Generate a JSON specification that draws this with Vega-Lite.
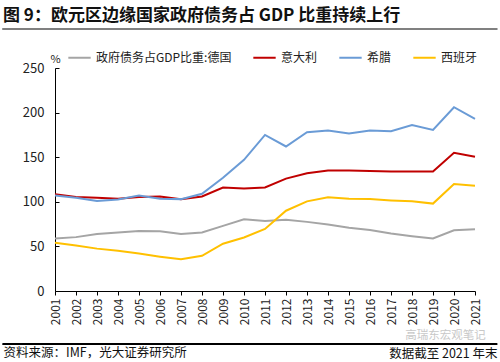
{
  "$schema": "https://vega.github.io/schema/vega-lite/v6.json",
  "width": 420,
  "height": 223,
  "autosize": "none",
  "padding": {"left": 55, "top": 68, "right": 25, "bottom": 71},
  "background": "white",
  "config": {"view": {"stroke": null}, "font": "Noto Sans CJK SC"},
  "title": {
    "text": "图 9：欧元区边缘国家政府债务占 GDP 比重持续上行",
    "anchor": "start",
    "frame": "group",
    "dx": -52,
    "fontSize": 17,
    "fontWeight": "bold",
    "color": "#111111",
    "offset": 3
  },
  "data": {
    "values": [
      {"year": 2001, "政府债务占GDP比重:德国": 58.9, "意大利": 108.5, "希腊": 107.0, "西班牙": 54.0},
      {"year": 2002, "政府债务占GDP比重:德国": 60.4, "意大利": 105.5, "希腊": 104.5, "西班牙": 51.0},
      {"year": 2003, "政府债务占GDP比重:德国": 64.0, "意大利": 104.5, "希腊": 101.0, "西班牙": 47.5},
      {"year": 2004, "政府债务占GDP比重:德国": 65.5, "意大利": 103.5, "希腊": 102.5, "西班牙": 45.0},
      {"year": 2005, "政府债务占GDP比重:德国": 67.4, "意大利": 105.5, "希腊": 107.0, "西班牙": 42.0},
      {"year": 2006, "政府债务占GDP比重:德国": 66.9, "意大利": 106.0, "希腊": 103.5, "西班牙": 38.5},
      {"year": 2007, "政府债务占GDP比重:德国": 64.0, "意大利": 103.0, "希腊": 103.0, "西班牙": 35.5},
      {"year": 2008, "政府债务占GDP比重:德国": 65.5, "意大利": 106.0, "希腊": 109.0, "西班牙": 39.5},
      {"year": 2009, "政府债务占GDP比重:德国": 73.0, "意大利": 116.0, "希腊": 127.0, "西班牙": 53.0},
      {"year": 2010, "政府债务占GDP比重:德国": 80.5, "意大利": 115.0, "希腊": 147.0, "西班牙": 60.0},
      {"year": 2011, "政府债务占GDP比重:德国": 78.6, "意大利": 116.0, "希腊": 175.0, "西班牙": 69.5},
      {"year": 2012, "政府债务占GDP比重:德国": 80.0, "意大利": 126.0, "希腊": 162.0, "西班牙": 90.0},
      {"year": 2013, "政府债务占GDP比重:德国": 77.5, "意大利": 132.0, "希腊": 178.0, "西班牙": 100.5},
      {"year": 2014, "政府债务占GDP比重:德国": 74.5, "意大利": 135.0, "希腊": 180.0, "西班牙": 105.0},
      {"year": 2015, "政府债务占GDP比重:德国": 71.0, "意大利": 135.0, "希腊": 176.5, "西班牙": 103.5},
      {"year": 2016, "政府债务占GDP比重:德国": 68.5, "意大利": 134.5, "希腊": 180.0, "西班牙": 103.0},
      {"year": 2017, "政府债务占GDP比重:德国": 64.5, "意大利": 134.0, "希腊": 179.0, "西班牙": 101.5},
      {"year": 2018, "政府债务占GDP比重:德国": 61.5, "意大利": 134.0, "希腊": 186.0, "西班牙": 100.5},
      {"year": 2019, "政府债务占GDP比重:德国": 59.0, "意大利": 134.0, "希腊": 180.5, "西班牙": 98.0},
      {"year": 2020, "政府债务占GDP比重:德国": 68.0, "意大利": 155.0, "希腊": 206.0, "西班牙": 120.0},
      {"year": 2021, "政府债务占GDP比重:德国": 69.3, "意大利": 150.5, "希腊": 193.0, "西班牙": 118.0}
    ]
  },
  "resolve": {"axis": {"x": "independent", "y": "independent"}},
  "layer": [
    {
      "transform": [
        {"fold": ["政府债务占GDP比重:德国", "意大利", "希腊", "西班牙"], "as": ["series", "value"]}
      ],
      "mark": {"type": "line", "strokeWidth": 2},
      "encoding": {
        "x": {
          "field": "year",
          "type": "quantitative",
          "scale": {"domain": [2001, 2021], "nice": false, "zero": false},
          "axis": {
            "values": [2001, 2002, 2003, 2004, 2005, 2006, 2007, 2008, 2009, 2010, 2011, 2012, 2013, 2014, 2015, 2016, 2017, 2018, 2019, 2020, 2021],
            "format": "d",
            "labelAngle": -90,
            "labelAlign": "right",
            "labelBaseline": "middle",
            "labelFontSize": 12,
            "labelColor": "#222222",
            "labelPadding": 3,
            "labelFlush": false,
            "labelOverlap": false,
            "domainColor": "#000000",
            "tickColor": "#000000",
            "tickSize": 4,
            "grid": false,
            "title": "资料来源：IMF，光大证券研究所",
            "titleFontSize": 12.5,
            "titleFontWeight": "normal",
            "titleColor": "#111111",
            "titleAnchor": "start",
            "titleAlign": "left",
            "titleBaseline": "middle",
            "titleX": -52,
            "titleY": 61
          }
        },
        "y": {
          "field": "value",
          "type": "quantitative",
          "scale": {"domain": [0, 250], "nice": false},
          "axis": {
            "values": [0, 50, 100, 150, 200, 250],
            "labelFontSize": 13,
            "labelColor": "#222222",
            "labelPadding": 15,
            "domainColor": "#000000",
            "tickColor": "#000000",
            "tickSize": -4,
            "grid": false,
            "title": "%",
            "titleAngle": 0,
            "titleFontSize": 11,
            "titleFontWeight": "normal",
            "titleColor": "#222222",
            "titleAlign": "center",
            "titleBaseline": "middle",
            "titleX": 0,
            "titleY": -9
          }
        },
        "color": {
          "field": "series",
          "type": "nominal",
          "scale": {
            "domain": ["政府债务占GDP比重:德国", "意大利", "希腊", "西班牙"],
            "range": ["#A5A5A5", "#C00000", "#6A9BD6", "#FFC000"]
          },
          "legend": {
            "orient": "none",
            "legendX": 12,
            "legendY": -23,
            "direction": "horizontal",
            "title": null,
            "symbolType": "stroke",
            "symbolSize": 500,
            "symbolStrokeWidth": 2,
            "labelFontSize": 12,
            "labelColor": "#222222",
            "labelOffset": 4,
            "columnPadding": 17
          }
        }
      }
    },
    {
      "mark": {"type": "rule", "color": "#808080", "strokeWidth": 1.5, "clip": false},
      "encoding": {
        "x": {
          "datum": 1998.52,
          "type": "quantitative",
          "axis": {
            "orient": "top",
            "domain": false,
            "ticks": false,
            "labels": false,
            "grid": false,
            "title": "高瑞东宏观笔记",
            "titleFontSize": 11.5,
            "titleFontWeight": "normal",
            "titleColor": "#C8C8C8",
            "titleAlign": "center",
            "titleBaseline": "middle",
            "titleX": 390,
            "titleY": 267
          }
        },
        "x2": {"datum": 2022.05},
        "y": {
          "datum": 293.7,
          "type": "quantitative",
          "axis": {
            "orient": "right",
            "domain": false,
            "ticks": false,
            "labels": false,
            "grid": false,
            "title": "数据截至 2021 年末",
            "titleAngle": 0,
            "titleFontSize": 12.5,
            "titleFontWeight": "normal",
            "titleColor": "#111111",
            "titleAlign": "right",
            "titleBaseline": "middle",
            "titleX": 22,
            "titleY": 285
          }
        }
      }
    },
    {
      "mark": {"type": "rule", "color": "#000000", "strokeWidth": 1, "clip": false},
      "encoding": {
        "x": {"datum": 1998.52, "type": "quantitative", "axis": null},
        "x2": {"datum": 2022.05},
        "y": {"datum": -59.5, "type": "quantitative", "axis": null}
      }
    }
  ]
}
